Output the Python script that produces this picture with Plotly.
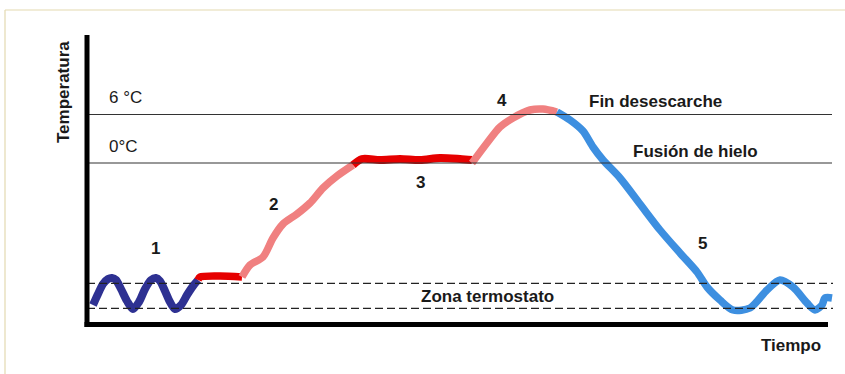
import plotly.graph_objects as go

# Time (arbitrary units) and temperature (arbitrary units, 0 = time axis)
t1 = [6, 11, 16, 21, 25, 29, 34, 40, 46, 52, 58, 64, 69, 73, 78, 83, 88, 94, 100, 106, 111]
v1 = [19, 30, 40, 45, 46, 44, 35, 23, 15, 22, 35, 44, 46, 43, 33, 22, 15, 19, 29, 38, 44]

t2a = [111, 113, 133, 155]
v2a = [44, 47, 48, 47]

t2 = [155, 163, 176, 186, 196, 210, 223, 236, 250, 266]
v2 = [47, 59, 67, 86, 100, 110, 121, 136, 148, 159]

t3 = [266, 275, 293, 313, 333, 353, 373, 385]
v3 = [159, 165, 164, 165, 164, 166, 165, 164]

t4 = [385, 400, 413, 426, 443, 456, 470]
v4 = [161, 181, 197, 206, 214, 215, 212]

t5 = [470, 483, 496, 506, 516, 533, 553, 573, 593, 610, 620, 633, 646, 663,
      680, 693, 706, 720, 728, 735, 738, 745]
v5 = [212, 204, 193, 177, 164, 146, 120, 94, 71, 52, 37, 24, 14, 16,
      34, 44, 37, 21, 14, 19, 26, 26]

level_fin = 209.5      # 6 °C
level_fusion = 161     # 0 °C
zona_alta = 40.7
zona_baja = 15.7
t_end = 745

labels = [
    ("Temperatura", -24, 232, True, -90, "center"),
    ("6 °C", 20, 227, False, 0, "left"),
    ("0°C", 20, 178, False, 0, "left"),
    ("1", 68, 76, True, 0, "center"),
    ("2", 186, 120, True, 0, "center"),
    ("3", 333, 142, True, 0, "center"),
    ("4", 415, 224, True, 0, "center"),
    ("5", 615, 81, True, 0, "center"),
    ("Fin desescarche", 568, 223, True, 0, "center"),
    ("Fusión de hielo", 608, 173, True, 0, "center"),
    ("Zona termostato", 400, 28, True, 0, "center"),
    ("Tiempo", 704, -21, True, 0, "center"),
]

NAVY = "#2e3192"
RED = "#e60000"
PINK = "#f08080"
BLUE = "#3d8fe0"

fig = go.Figure()

def seg(x, y, color, w=7.5):
    fig.add_trace(go.Scatter(x=x, y=y, mode="lines",
                             line=dict(color=color, width=w, shape="spline", smoothing=0.8),
                             hoverinfo="skip"))

# reference lines
shapes = []
for lvl in (level_fin, level_fusion):
    shapes.append(dict(type="line", xref="x", yref="y", x0=0, x1=t_end, y0=lvl, y1=lvl,
                       line=dict(color="#333333", width=1.2)))
for lvl in (zona_alta, zona_baja):
    shapes.append(dict(type="line", xref="x", yref="y", x0=0, x1=t_end + 1, y0=lvl, y1=lvl,
                       line=dict(color="#222222", width=1.2, dash="8px,4px")))
# axes
shapes.append(dict(type="line", xref="x", yref="y", x0=0, x1=0, y0=-3, y1=289,
                   line=dict(color="black", width=5)))
shapes.append(dict(type="line", xref="x", yref="y", x0=-2.5, x1=741, y0=-0.5, y1=-0.5,
                   line=dict(color="black", width=5)))
# frame
shapes.append(dict(type="line", xref="x", yref="y", x0=-82, x1=-82, y0=-60, y1=314,
                   line=dict(color="#e3d9b0", width=1.2)))
shapes.append(dict(type="line", xref="x", yref="y", x0=-82, x1=770, y0=314, y1=314,
                   line=dict(color="#e3d9b0", width=1.2)))

seg(t1, v1, NAVY, 8)
seg(t2a, v2a, RED)
seg(t2, v2, PINK)
seg(t3, v3, RED, 8)
seg(t4, v4, PINK)
seg(t5, v5, BLUE)

annotations = []
for text, x, y, bold, ang, align in labels:
    annotations.append(dict(
        text=f"<b>{text}</b>" if bold else text, x=x, y=y, xref="x", yref="y",
        showarrow=False, textangle=ang, xanchor=align, yanchor="middle",
        font=dict(family="Liberation Sans, Arial, sans-serif", size=17, color="#1a1a1a")))

fig.update_layout(
    width=845, height=374, margin=dict(l=0, r=0, t=0, b=0),
    paper_bgcolor="white", plot_bgcolor="white", showlegend=False,
    xaxis=dict(range=[-87, 758], visible=False, fixedrange=True),
    yaxis=dict(range=[-50, 324], visible=False, fixedrange=True),
    shapes=shapes, annotations=annotations,
)

fig.write_html("out.html", config={"displayModeBar": False},
               post_script="document.body.style.margin='0px';document.body.style.overflow='hidden';")
